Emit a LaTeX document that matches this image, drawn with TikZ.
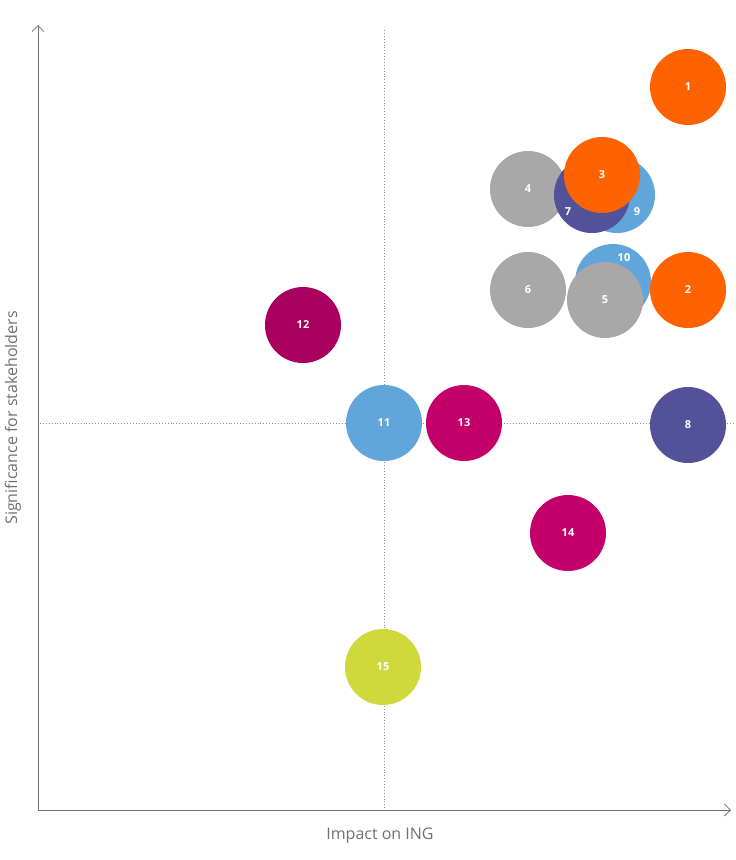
\documentclass[tikz,border=0pt]{standalone}
\usepackage{fontspec}
\setmainfont{Open Sans}
\usetikzlibrary{arrows.meta}
\definecolor{ingor}{HTML}{FF6200}
\definecolor{inggr}{HTML}{A8A8A8}
\definecolor{ingpu}{HTML}{525199}
\definecolor{ingbl}{HTML}{60A6DA}
\definecolor{ingmg}{HTML}{A8005F}
\definecolor{ingrd}{HTML}{C4006A}
\definecolor{ingye}{HTML}{D0D93C}
\definecolor{axgr}{HTML}{707070}
\begin{document}
\begin{tikzpicture}[x=1pt,y=-1pt,
  bub/.style={circle,minimum size=76pt,inner sep=0pt,fill=#1},
  lab/.style={text=white,font=\bfseries\fontsize{11}{13}\selectfont},
  axis/.style={draw=axgr,line width=0.8pt,-{Straight Barb[length=6pt,width=12pt]}},
  guide/.style={draw=axgr!80,line width=0.9pt,dotted}]
\useasboundingbox (0,0) rectangle (736,860);
\coordinate (o) at (38,810);
\coordinate (ytop) at (38,25);
\coordinate (xend) at (731,810);
\coordinate (vt) at (384,30);
\coordinate (vb) at (384,810);
\coordinate (hl) at (40,423);
\coordinate (hr) at (735,423);
\draw[guide] (vt) -- (vb);
\draw[guide] (hl) -- (hr);
\draw[axis] (o) -- (ytop);
\draw[axis] (o) -- (xend);
\node[text=axgr,font=\fontsize{16}{18}\selectfont,rotate=90] (ylab) at (13,418) {Significance for stakeholders};
\node[text=axgr,font=\fontsize{16}{18}\selectfont] (xlab) at (380,836) {Impact on ING};
% bubbles
\node[bub=ingor,lab] (n1) at (688,87) {1};
\node[bub=inggr,lab] (n4) at (528,189) {4};
\node[bub=ingbl] (n9) at (617,195) {};
\node[bub=ingpu] (n7) at (592,195) {};
\node[lab] (l9) at (637,212) {9};
\node[lab] (l7) at (568,212) {7};
\node[bub=ingor,lab] (n3) at (602,175) {3};
\node[bub=inggr,lab] (n6) at (528,290) {6};
\node[bub=ingbl] (n10) at (613,282) {};
\node[lab] (l10) at (624,258) {10};
\node[bub=inggr,lab] (n5) at (605,300) {5};
\node[bub=ingor,lab] (n2) at (688,290) {2};
\node[bub=ingmg,lab] (n12) at (303,325) {12};
\node[bub=ingbl,lab] (n11) at (384,423) {11};
\node[bub=ingrd,lab] (n13) at (464,423) {13};
\node[bub=ingpu,lab] (n8) at (688,425) {8};
\node[bub=ingrd,lab] (n14) at (568,533) {14};
\node[bub=ingye,lab] (n15) at (383,667) {15};
\end{tikzpicture}
\end{document}
